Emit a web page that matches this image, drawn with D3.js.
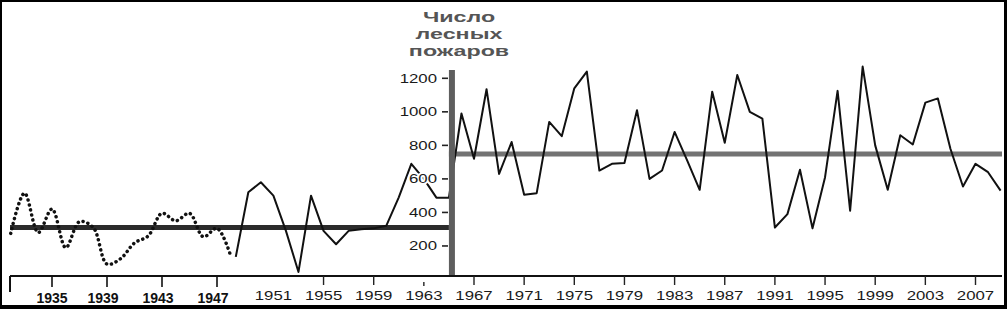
<!DOCTYPE html>
<html>
<head>
<meta charset="utf-8">
<script src="https://cdn.jsdelivr.net/npm/d3@7"></script>
<style>
  html, body { margin: 0; padding: 0; background: #fff; }
  svg { display: block; }
</style>
</head>
<body>
<svg id="chart" width="1007" height="309"></svg>
<script>
// ---- data ----
const dottedYears  = [1932,1933,1934,1935,1936,1937,1938,1939,1940,1941,1942,1943,1944,1945,1946,1947,1948];
const dottedValues = [275, 515, 280, 420, 190, 345, 310, 92, 125, 218, 260, 395, 350, 395, 255, 305, 140];

const solidYears = [1948,1949,1950,1951,1952,1953,1954,1955,1956,1957,1958,1959,1960,1961,1962,1963,1964,1965,
  1966,1967,1968,1969,1970,1971,1972,1973,1974,1975,1976,1977,1978,1979,1980,1981,1982,1983,1984,1985,1986,1987,
  1988,1989,1990,1991,1992,1993,1994,1995,1996,1997,1998,1999,2000,2001,2002,2003,2004,2005,2006,2007,2008,2009];
const solidValues = [135,520,580,500,290,45,500,290,210,290,300,305,320,490,690,600,488,488,
  990,720,1135,630,820,505,515,940,855,1140,1240,650,690,695,1010,600,650,880,710,535,1120,815,
  1220,1000,960,310,390,655,305,610,1125,410,1270,800,535,860,805,1055,1080,780,555,690,640,530];

const meanLeft = 310;    // 1932-1965
const meanRight = 748;   // 1966-2009

const leftTickYears  = [1935, 1939, 1943, 1947];
const rightTickYears = [1951,1955,1959,1963,1967,1971,1975,1979,1983,1987,1991,1995,1999,2003,2007];
const yTickValues = [200, 400, 600, 800, 1000, 1200];
const titleLines = ["Число", "лесных", "пожаров"];

// ---- scales ----
const svg = d3.select("#chart");
const y  = d3.scaleLinear().domain([0, 1200]).range([279.5, 78.3]);
const xR = d3.scaleLinear().domain([1967, 2007]).range([474, 975.5]);
const xL = d3.scaleLinear().domain([1935, 1947]).range([52, 217]);

// frame
svg.append("rect").attr("x", 0).attr("y", 0).attr("width", 1007).attr("height", 309).attr("fill", "#000");
svg.append("rect").attr("x", 2).attr("y", 2).attr("width", 1002).attr("height", 303).attr("fill", "#fff");

const axisY = 276;
const xStart = 10, xEnd = 1002;
const barX = xR(1965);

// mean lines
svg.append("line").attr("x1", xStart).attr("x2", barX)
  .attr("y1", y(meanLeft)).attr("y2", y(meanLeft))
  .attr("stroke", "#2b2b2b").attr("stroke-width", 5);
svg.append("line").attr("x1", barX).attr("x2", xEnd)
  .attr("y1", y(meanRight)).attr("y2", y(meanRight))
  .attr("stroke", "#737373").attr("stroke-width", 5);

// dotted series
const dotted = dottedYears.map((d, i) => [d, dottedValues[i]]);
svg.append("path")
  .attr("d", d3.line().x(d => xL(d[0])).y(d => y(d[1])).curve(d3.curveCatmullRom.alpha(0.5))(dotted))
  .attr("fill", "none").attr("stroke", "#111").attr("stroke-width", 3.5)
  .attr("stroke-linecap", "round").attr("stroke-dasharray", "0.1 5");

// solid series
const solid = solidYears.map((d, i) => [d, solidValues[i]]);
svg.append("path")
  .attr("d", d3.line().x(d => xR(d[0])).y(d => y(d[1]))(solid))
  .attr("fill", "none").attr("stroke", "#111").attr("stroke-width", 2)
  .attr("stroke-linejoin", "round");

// vertical bar (y axis)
svg.append("line").attr("x1", barX + 3).attr("x2", barX + 3)
  .attr("y1", 70).attr("y2", axisY)
  .attr("stroke", "#5e5e5e").attr("stroke-width", 6);

// y ticks and labels
const yAx = svg.append("g");
yTickValues.forEach(v => {
  yAx.append("line").attr("x1", 442).attr("x2", 448).attr("y1", y(v)).attr("y2", y(v))
    .attr("stroke", "#222").attr("stroke-width", 1.6);
  yAx.append("text")
    .attr("transform", `translate(437,${y(v) + 4.3}) scale(1.4,1)`)
    .attr("text-anchor", "end")
    .attr("font-family", "Liberation Sans, Arial, sans-serif")
    .attr("font-size", 12)
    .attr("fill", "#1a1a1a")
    .attr("stroke", "#fff").attr("stroke-width", 3).attr("paint-order", "stroke")
    .text(v);
});

// x axis line
svg.append("line").attr("x1", xStart).attr("x2", xEnd).attr("y1", axisY).attr("y2", axisY)
  .attr("stroke", "#111").attr("stroke-width", 2.2);
svg.append("line").attr("x1", xStart).attr("x2", xStart).attr("y1", axisY).attr("y2", 292)
  .attr("stroke", "#111").attr("stroke-width", 2);

// left ticks + labels
leftTickYears.forEach(t => {
  svg.append("line").attr("x1", xL(t)).attr("x2", xL(t)).attr("y1", axisY).attr("y2", 287)
    .attr("stroke", "#111").attr("stroke-width", 1.6);
  svg.append("text").attr("x", xL(t) - (t === 1935 ? 0 : 4)).attr("y", 303)
    .attr("text-anchor", "middle")
    .attr("font-family", "Liberation Sans, Arial, sans-serif")
    .attr("font-weight", "bold").attr("font-size", 14).attr("fill", "#111")
    .text(t);
});

// right ticks + labels
rightTickYears.forEach(t => {
  if (t !== 1951) {
    svg.append("line").attr("x1", xR(t)).attr("x2", xR(t))
      .attr("y1", t === 1963 ? 282 : axisY).attr("y2", t === 1963 ? 286 : 285)
      .attr("stroke", "#222").attr("stroke-width", 1.4);
  }
  svg.append("text")
    .attr("transform", `translate(${xR(t)},300) scale(1.4,1)`)
    .attr("text-anchor", "middle")
    .attr("font-family", "Liberation Sans, Arial, sans-serif")
    .attr("font-size", 12).attr("fill", "#1a1a1a")
    .text(t);
});

// title
titleLines.forEach((s, i) => {
  svg.append("text")
    .attr("transform", `translate(459,${22 + i * 17}) scale(1.5,1)`)
    .attr("text-anchor", "middle")
    .attr("font-family", "Liberation Sans, Arial, sans-serif")
    .attr("font-weight", "bold").attr("font-size", 15.5).attr("fill", "#555")
    .text(s);
});
</script>
</body>
</html>
